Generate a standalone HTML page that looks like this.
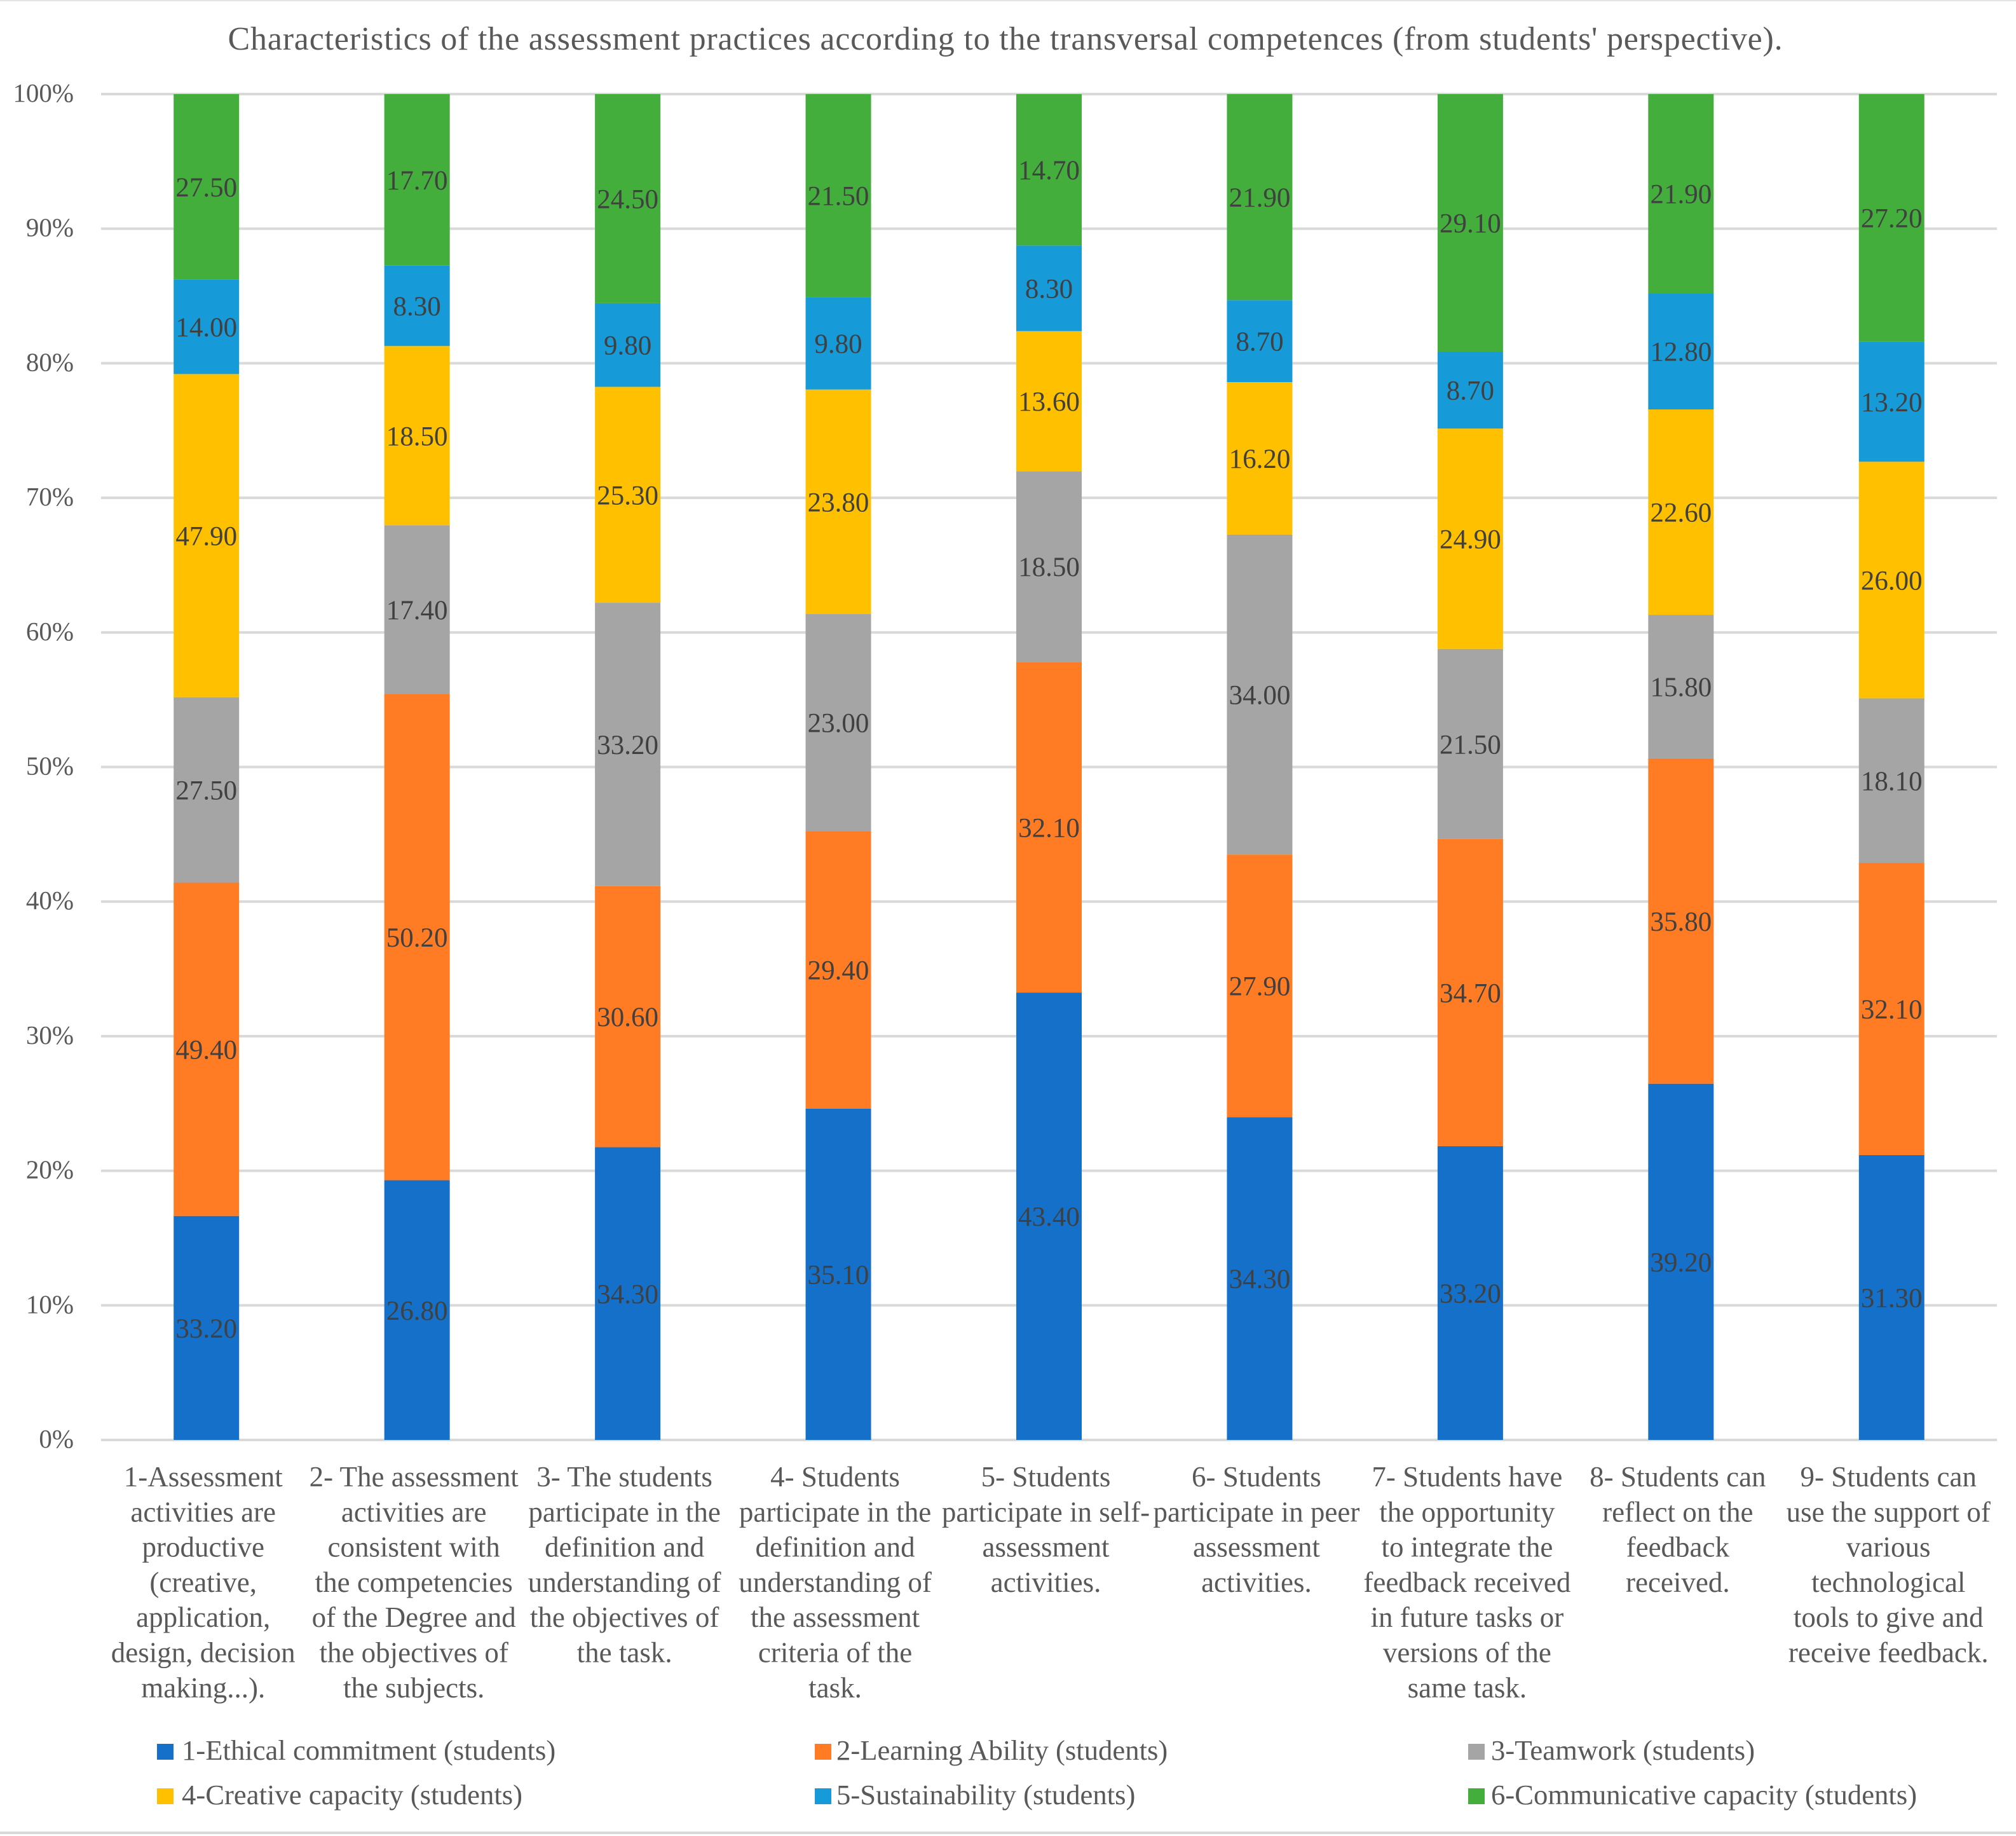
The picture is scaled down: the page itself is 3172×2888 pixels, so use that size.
<!DOCTYPE html>
<html lang="en">
<head>
<meta charset="utf-8">
<title>Characteristics of the assessment practices</title>
<style>
html,body{margin:0;padding:0;background:#fff;}
svg{display:block;}
text{font-family:"Liberation Serif",serif;}
</style>
</head>
<body>
<svg id="chart" xmlns="http://www.w3.org/2000/svg" width="3172" height="2888" viewBox="0 0 3172 2888">
  <rect x="0" y="0" width="3172" height="2888" fill="#ffffff"/>
  <rect x="0" y="0" width="3172" height="2" fill="#e4e4e4"/>
  <rect x="0" y="2881" width="3172" height="4" fill="#d9d9d9"/>
  <text x="1582" y="78" text-anchor="middle" font-size="52" letter-spacing="0.8" fill="#595959">Characteristics of the assessment practices according to the transversal competences (from students' perspective).</text>
  <g id="grid"></g>
  <g id="yticks"></g>
  <g id="bars"></g>
  <g id="xlabels"></g>
  <g id="legend">
    <g>
      <rect x="247" y="2743" width="26" height="25" fill="#1470c8"/>
      <text x="286" y="2768" font-size="44.7" fill="#595959">1-Ethical commitment (students)</text>
    </g>
    <g>
      <rect x="1282" y="2743" width="26" height="25" fill="#ff7c24"/>
      <text x="1316" y="2768" font-size="44.7" fill="#595959">2-Learning Ability (students)</text>
    </g>
    <g>
      <rect x="2310" y="2743" width="26" height="25" fill="#a5a5a5"/>
      <text x="2346" y="2768" font-size="44.7" fill="#595959">3-Teamwork (students)</text>
    </g>
    <g>
      <rect x="247" y="2813" width="26" height="25" fill="#ffc000"/>
      <text x="286" y="2838" font-size="44.7" fill="#595959">4-Creative capacity (students)</text>
    </g>
    <g>
      <rect x="1282" y="2813" width="26" height="25" fill="#169ad8"/>
      <text x="1316" y="2838" font-size="44.7" fill="#595959">5-Sustainability (students)</text>
    </g>
    <g>
      <rect x="2310" y="2813" width="26" height="25" fill="#43ae3b"/>
      <text x="2346" y="2838" font-size="44.7" fill="#595959">6-Communicative capacity (students)</text>
    </g>
  </g>
</svg>
<script>
var categories = [
  ["1-Assessment","activities are","productive","(creative,","application,","design, decision","making...)."],
  ["2- The assessment","activities are","consistent with","the competencies","of the Degree and","the objectives of","the subjects."],
  ["3- The students","participate in the","definition and","understanding of","the objectives of","the task."],
  ["4- Students","participate in the","definition and","understanding of","the assessment","criteria of the","task."],
  ["5- Students","participate in self-","assessment","activities."],
  ["6- Students","participate in peer","assessment","activities."],
  ["7- Students have","the opportunity","to integrate the","feedback received","in future tasks or","versions of the","same task."],
  ["8- Students can","reflect on the","feedback","received."],
  ["9- Students can","use the support of","various","technological","tools to give and","receive feedback."]
];
var ethicalCommitment = [33.2,26.8,34.3,35.1,43.4,34.3,33.2,39.2,31.3];
var learningAbility = [49.4,50.2,30.6,29.4,32.1,27.9,34.7,35.8,32.1];
var teamwork = [27.5,17.4,33.2,23.0,18.5,34.0,21.5,15.8,18.1];
var creativeCapacity = [47.9,18.5,25.3,23.8,13.6,16.2,24.9,22.6,26.0];
var sustainability = [14.0,8.3,9.8,9.8,8.3,8.7,8.7,12.8,13.2];
var communicativeCapacity = [27.5,17.7,24.5,21.5,14.7,21.9,29.1,21.9,27.2];
var yTicks = [0,10,20,30,40,50,60,70,80,90,100];

var NS = 'http://www.w3.org/2000/svg';
var plotLeft = 159, plotRight = 3142, plotTop = 148, plotBottom = 2265, barWidth = 103;
var stackOrder = [ethicalCommitment, learningAbility, teamwork, creativeCapacity, sustainability, communicativeCapacity];
var stackColors = ['#1470c8','#ff7c24','#a5a5a5','#ffc000','#169ad8','#43ae3b'];
var stackKeys = ['ethical','learning','teamwork','creative','sustainability','communicative'];

function yScale(p){ return plotBottom - (plotBottom - plotTop) * p / 100; }
function xCenter(i){ return plotLeft + (plotRight - plotLeft) * (i + 0.5) / categories.length; }
function make(tag, attrs, parent){
  var el = document.createElementNS(NS, tag);
  for (var k in attrs) el.setAttribute(k, attrs[k]);
  parent.appendChild(el);
  return el;
}

var grid = document.getElementById('grid');
var yticks = document.getElementById('yticks');
yTicks.forEach(function(t){
  var line = make('rect', {x: plotLeft, y: yScale(t) - 2, width: plotRight - plotLeft, height: 4, fill: '#d9d9d9'}, grid);
  
  
  var label = make('text', {x: 116, y: yScale(t) + 12, 'text-anchor': 'end', 'font-size': 41, fill: '#595959'}, yticks);
  
  
  label.textContent = t + '%';
});

var bars = document.getElementById('bars');
categories.forEach(function(cat, i){
  var total = 0;
  stackOrder.forEach(function(s){ total += s[i]; });
  var cum = 0;
  stackOrder.forEach(function(s, j){
    var y1 = yScale(cum / total * 100);
    var y2 = yScale((cum + s[i]) / total * 100);
    var r = make('rect', {x: xCenter(i) - barWidth / 2, y: y2, width: barWidth, height: y1 - y2, fill: stackColors[j]}, bars);
    
    
    cum += s[i];
  });
  cum = 0;
  stackOrder.forEach(function(s, j){
    var y1 = yScale(cum / total * 100);
    var y2 = yScale((cum + s[i]) / total * 100);
    var v = make('text', {x: xCenter(i), y: (y1 + y2) / 2 + 15, 'text-anchor': 'middle', 'font-size': 43, fill: '#404040'}, bars);
    
    
    v.textContent = s[i].toFixed(2);
    cum += s[i];
  });
});

var xlabels = document.getElementById('xlabels');
categories.forEach(function(lines, i){
  var t = make('text', {'text-anchor': 'middle', 'font-size': 45, fill: '#595959'}, xlabels);
  
  
  lines.forEach(function(l, n){
    var sp = make('tspan', {x: xCenter(i) - 5, y: 2338 + n * 55.3}, t);
    sp.textContent = l;
  });
});
</script>
</body>
</html>
